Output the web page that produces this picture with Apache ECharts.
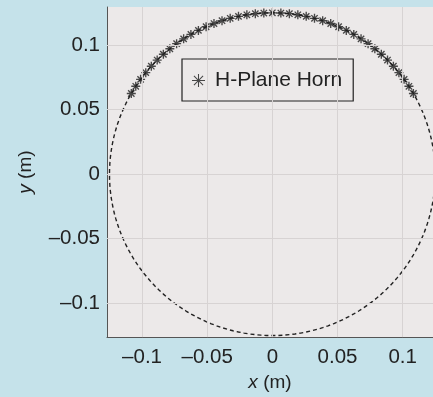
<!DOCTYPE html>
<html><head><meta charset="utf-8">
<script src="https://cdn.jsdelivr.net/npm/echarts@6/dist/echarts.min.js"></script>
<style>html,body{margin:0;padding:0;background:#c5e2ea;}#c{width:433px;height:397px;}</style>
</head><body><div id="c"></div>
<script>
// ---- data ----
const xTicks = [-0.1, -0.05, 0, 0.05, 0.1];
const yTicks = [-0.1, -0.05, 0, 0.05, 0.1];
const xRange = [-0.1269, 0.1233];
const yRange = [-0.1262, 0.1295];
const circleRadius = 0.125;          // dashed reference circle (m)
const hornRadius = 0.125;            // radius of the H-Plane Horn sample points (m)
const hornAnglesDeg = [30, 33, 36, 39, 42, 45, 48, 51, 54, 57, 60, 63, 66, 69, 72, 75, 78, 81, 84, 87, 90,
  93, 96, 99, 102, 105, 108, 111, 114, 117, 120, 123, 126, 129, 132, 135, 138, 141, 144, 147, 150];
const seriesName = 'H-Plane Horn';

// ---- build ----
const hornPoints = hornAnglesDeg.map(a => [hornRadius * Math.cos(a * Math.PI / 180), hornRadius * Math.sin(a * Math.PI / 180)]);
const circlePoints = [];
for (let a = 0; a <= 360; a += 2) circlePoints.push([circleRadius * Math.cos(a * Math.PI / 180), circleRadius * Math.sin(a * Math.PI / 180)]);

const fmt = v => v === 0 ? '0' : (v < 0 ? '\u2013' : '') + String(Math.abs(v));
// asterisk made of four bars (all wound the same way)
const starPath = 'path://M0 8.5L20 8.5L20 11.5L0 11.5Z' +
  'M8.5 0L11.5 0L11.5 20L8.5 20Z' +
  'M4 1.9L18.1 16L16 18.1L1.9 4Z' +
  'M18.1 4L4 18.1L1.9 16L16 1.9Z';
const legendStarPath = 'path://M0 9.2L20 9.2L20 10.8L0 10.8Z' +
  'M9.2 0L10.8 0L10.8 20L9.2 20Z' +
  'M3.5 2.4L17.6 16.5L16.5 17.6L2.4 3.5Z' +
  'M17.6 3.5L3.5 17.6L2.4 16.5L16.5 2.4Z';
const FONT = 'Liberation Sans';
const axisCol = '#555';
const gridCol = '#d7d3d3';

const chart = echarts.init(document.getElementById('c'), null, {renderer: 'canvas'});
chart.setOption({
  backgroundColor: '#c5e2ea',
  animation: false,
  textStyle: {fontFamily: FONT},
  grid: {left: 107, top: 7, right: 0, bottom: 55, show: true, backgroundColor: '#ece9e9', borderWidth: 0},
  legend: {
    data: [{name: seriesName, icon: legendStarPath}],
    left: 182, top: 59,
    itemWidth: 13, itemHeight: 13,
    padding: [11, 11, 10, 10],
    borderColor: '#222', borderWidth: 1.2, borderRadius: 0,
    backgroundColor: '#ece9e9',
    textStyle: {fontSize: 21, color: '#222', fontFamily: FONT, padding: [0, 0, 0, 5]},
    selectedMode: false
  },
  xAxis: {
    type: 'value', min: xRange[0], max: xRange[1],
    name: '{i|x} (m)', nameLocation: 'middle', nameGap: 34,
    nameTextStyle: {fontSize: 19, color: '#222', fontFamily: FONT, rich: {i: {fontStyle: 'italic', fontSize: 19, color: '#222', fontFamily: FONT}}},
    axisLine: {show: true, onZero: false, lineStyle: {color: axisCol, width: 1}},
    axisTick: {show: true, inside: true, length: 3, customValues: xTicks, lineStyle: {color: axisCol}},
    axisLabel: {customValues: xTicks, formatter: fmt, fontSize: 20.5, color: '#222', margin: 10, fontFamily: FONT},
    splitLine: {show: false}
  },
  yAxis: {
    type: 'value', min: yRange[0], max: yRange[1],
    name: '{i|y} (m)', nameLocation: 'middle', nameGap: 72,
    nameTextStyle: {fontSize: 19, color: '#222', fontFamily: FONT, rich: {i: {fontStyle: 'italic', fontSize: 19, color: '#222', fontFamily: FONT}}},
    axisLine: {show: true, onZero: false, lineStyle: {color: axisCol, width: 1}},
    axisTick: {show: true, inside: true, length: 3, customValues: yTicks, lineStyle: {color: axisCol}},
    axisLabel: {customValues: yTicks, formatter: fmt, fontSize: 20.5, color: '#222', margin: 7, fontFamily: FONT},
    splitLine: {show: false}
  },
  series: [
    {
      type: 'line', name: 'grid', data: [], silent: true, z: 1,
      markLine: {
        silent: true, symbol: 'none', label: {show: false}, animation: false,
        lineStyle: {color: gridCol, type: 'solid', width: 1},
        data: xTicks.map(v => ({xAxis: v})).concat(yTicks.map(v => ({yAxis: v})))
      }
    },
    {
      type: 'line', name: 'circle', data: circlePoints, showSymbol: false, z: 2, silent: true,
      lineStyle: {color: '#222', width: 1.4, type: [4, 3]}
    },
    {
      type: 'scatter', name: seriesName, data: hornPoints, z: 3,
      symbol: starPath, symbolSize: 9,
      itemStyle: {color: '#1e1e1e'}
    }
  ]
});
</script></body></html>
